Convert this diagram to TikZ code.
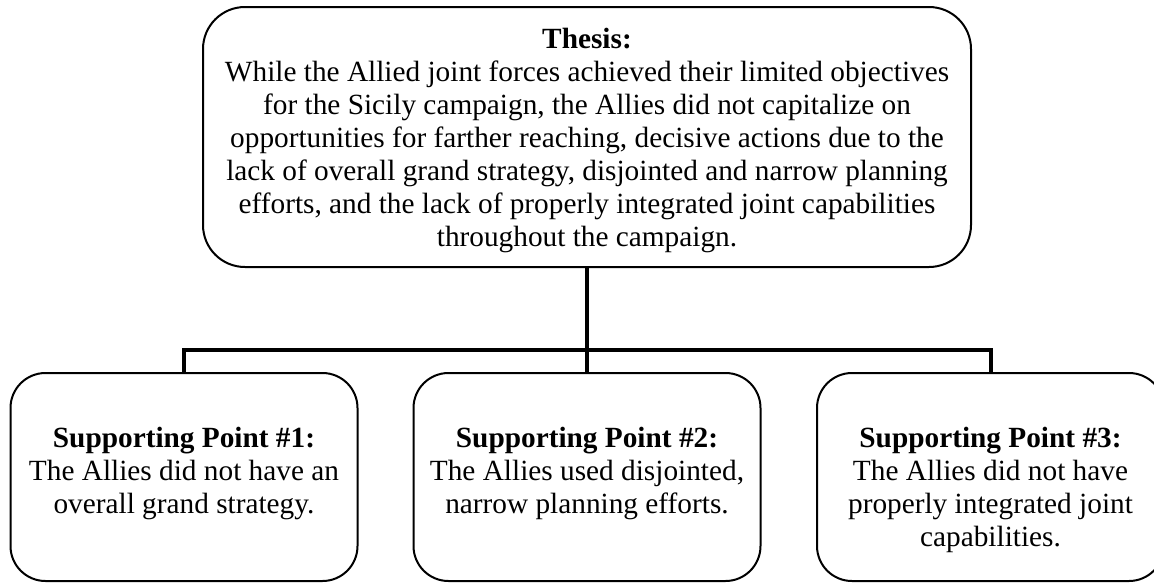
\documentclass[tikz,border=0pt]{standalone}
\usepackage{fontspec}
\setmainfont{Liberation Serif}
\begin{document}
\begin{tikzpicture}[x=1pt,y=-1pt,
  txt/.style={inner sep=0pt, align=center, anchor=north,
    font=\fontsize{29.3}{33}\selectfont},
  thesisbox/.style={draw, line width=2pt, rounded corners=42pt, inner sep=0pt,
    minimum width=768pt, minimum height=260pt},
  pointbox/.style={draw, line width=2pt, rounded corners=35pt, inner sep=0pt,
    minimum width=347pt, minimum height=208pt},
  conn/.style={line width=4pt}]
\useasboundingbox (0,0) rectangle (1154,582);
\clip (0,0) rectangle (1154,582);

% boxes
\node[thesisbox] (thesis) at (587,137) {};
\node[pointbox] (p1) at (184,477) {};
\node[pointbox] (p2) at (587,477) {};
\node[pointbox] (p3) at (990.5,477) {};

% texts
\node[txt] (thesistxt) at (587,25) {\strut\textbf{Thesis:}\\
  While the Allied joint forces achieved their limited objectives\\
  for the Sicily campaign, the Allies did not capitalize on\\
  opportunities for farther reaching, decisive actions due to the\\
  lack of overall grand strategy, disjointed and narrow planning\\
  efforts, and the lack of properly integrated joint capabilities\\
  throughout the campaign.};
\node[txt] (p1txt) at (184,424) {\strut\textbf{Supporting Point \#1:}\\
  The Allies did not have an\\ overall grand strategy.};
\node[txt] (p2txt) at (587,424) {\strut\textbf{Supporting Point \#2:}\\
  The Allies used disjointed,\\ narrow planning efforts.};
\node[txt] (p3txt) at (990.5,424) {\strut\textbf{Supporting Point \#3:}\\
  The Allies did not have\\ properly integrated joint\\ capabilities.};

% connectors
\coordinate (bar) at (587,350);
\draw[conn] (thesis.south) -- (p2.north);
\draw[conn] (p1.north) |- (bar) -| (p3.north);
\end{tikzpicture}
\end{document}
